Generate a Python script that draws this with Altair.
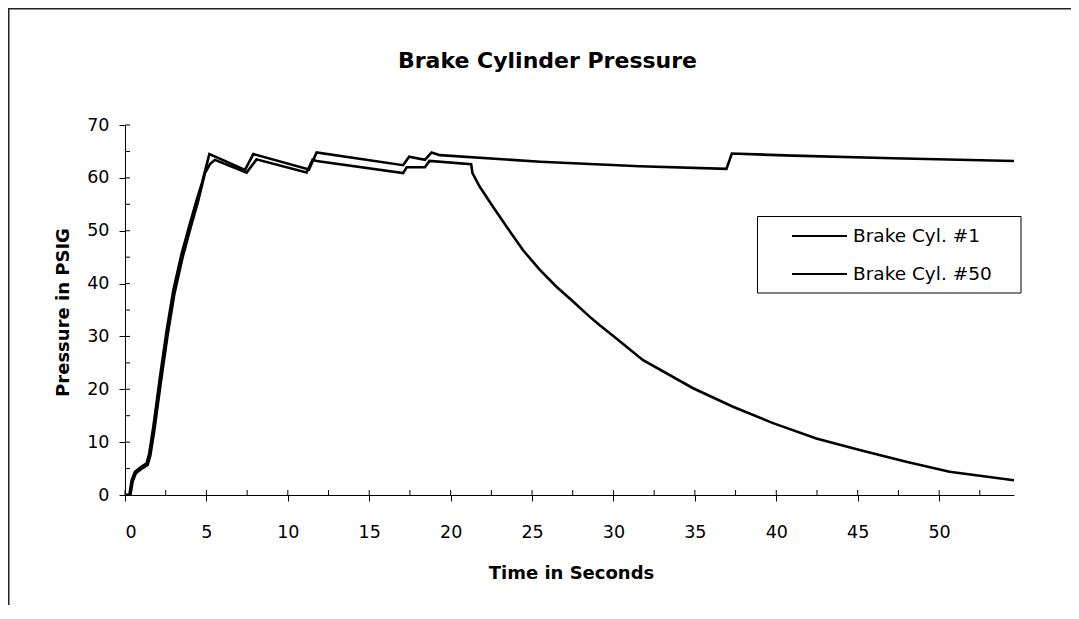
import altair as alt
import pandas as pd

# ---- data ----
series_names = ["Brake Cyl. #1", "Brake Cyl. #50"]

# Brake Cyl. #1 : releases after ~21 s
t_cyl1 = [0, 0.33, 0.47, 0.67, 1.08, 1.39, 1.55, 1.80, 2.21, 2.62, 3.03, 3.54, 4.05, 4.46,
          4.91, 5.22, 5.52, 7.47, 8.08, 11.15, 11.52, 11.77, 17.08, 17.30, 18.42, 18.70,
          21.26, 21.34, 21.79, 22.61, 23.43, 24.45, 25.48, 26.50, 27.52, 28.55, 29.16,
          30.18, 31.82, 34.89, 37.34, 39.80, 42.46, 45.12, 47.98, 50.64, 54.60]
p_cyl1 = [0, 0, 2.6, 4.1, 5.1, 5.7, 7.4, 12.2, 21.5, 30.3, 38.0, 45.0, 50.8, 55.2,
          60.9, 62.6, 63.4, 61.0, 63.5, 61.0, 63.4, 63.2, 60.9, 62.0, 62.0, 63.2,
          62.6, 60.9, 58.3, 54.5, 50.8, 46.3, 42.6, 39.4, 36.6, 33.7, 32.1,
          29.6, 25.5, 20.2, 16.7, 13.6, 10.7, 8.5, 6.3, 4.4, 2.8]

# Brake Cyl. #50 : stays applied
t_cyl50 = [0, 0.27, 0.41, 0.61, 1.02, 1.33, 1.49, 1.74, 2.15, 2.56, 2.97, 3.48, 3.99, 4.40,
           4.75, 5.18, 7.37, 7.88, 11.30, 11.77, 17.08, 17.45, 18.42, 18.83, 19.34,
           25.50, 31.60, 36.94, 37.27, 41.03, 47.17, 54.60]
p_cyl50 = [0, 0, 2.8, 4.4, 5.4, 6.0, 7.9, 12.9, 22.4, 31.2, 38.8, 45.7, 51.4, 55.8,
           59.3, 64.5, 61.5, 64.5, 61.6, 64.8, 62.4, 64.0, 63.4, 64.8, 64.3,
           63.05, 62.2, 61.7, 64.6, 64.2, 63.7, 63.2]

x_major = [0, 5, 10, 15, 20, 25, 30, 35, 40, 45, 50]
x_minor = [0, 2.5, 5, 7.5, 10, 12.5, 15, 17.5, 20, 22.5, 25, 27.5, 30, 32.5, 35, 37.5,
           40, 42.5, 45, 47.5, 50, 52.5]
y_major = [0, 10, 20, 30, 40, 50, 60, 70]
y_minor = [0, 5, 10, 15, 20, 25, 30, 35, 40, 45, 50, 55, 60, 65, 70]

df = pd.concat([
    pd.DataFrame({"t": t_cyl1, "p": p_cyl1, "series": series_names[0]}),
    pd.DataFrame({"t": t_cyl50, "p": p_cyl50, "series": series_names[1]}),
])

W, H = 889, 370
FONT = "DejaVu Sans"

x_scale = alt.Scale(domain=[0, 54.6], nice=False, zero=False)
y_scale = alt.Scale(domain=[0, 70], nice=False)

lines = alt.Chart(df).mark_line(strokeWidth=2.6, clip=True).encode(
    x=alt.X("t:Q", scale=x_scale,
            axis=alt.Axis(values=x_major, title="Time in Seconds", grid=False,
                          tickSize=6, labelPadding=22, titleX=446, titleY=83,
                          titleAlign="center", titleBaseline="alphabetic")),
    y=alt.Y("p:Q", scale=y_scale,
            axis=alt.Axis(values=y_major, title="Pressure in PSIG", grid=False,
                          tickSize=6, labelPadding=10, titleX=-57, titleY=187,
                          titleAlign="center", titleBaseline="alphabetic", titleAngle=270)),
    color=alt.Color("series:N",
                    scale=alt.Scale(domain=series_names, range=["#000000", "#000000"]),
                    legend=alt.Legend(title=None, orient="none", legendX=632, legendY=91,
                                      symbolType="stroke", symbolSize=3025,
                                      symbolStrokeWidth=2, symbolOffset=24,
                                      labelOffset=5, rowPadding=18, padding=10,
                                      clipHeight=20)),
)

x_inner = alt.Chart(pd.DataFrame({"t": x_minor})).mark_rule(color="black", strokeWidth=1).encode(
    x=alt.X("t:Q", scale=x_scale), y=alt.value(H), y2=alt.value(H - 5))

y_inner = alt.Chart(pd.DataFrame({"p": y_minor})).mark_rule(color="black", strokeWidth=1).encode(
    y=alt.Y("p:Q", scale=y_scale), x=alt.value(0), x2=alt.value(5))

# outer page frame and legend box (decoration only)
frame = alt.Chart(alt.Data(values=[{"k": 1}])).mark_rect(
    filled=False, stroke="#222222", strokeWidth=1.5).encode(
    x=alt.value(-116.25), x2=alt.value(W + 300), y=alt.value(-116.25), y2=alt.value(H + 300))

legend_box = alt.Chart(alt.Data(values=[{"k": 1}])).mark_rect(
    filled=False, stroke="#000000", strokeWidth=1).encode(
    x=alt.value(632.5), x2=alt.value(896), y=alt.value(91.5), y2=alt.value(168))

chart = alt.layer(frame, legend_box, lines, x_inner, y_inner).properties(
    width=W, height=H,
    title=alt.TitleParams("Brake Cylinder Pressure", font=FONT, fontSize=22, fontWeight="bold",
                          color="black", anchor="middle", frame="group", dx=-22, offset=-65),
    padding={"left": 117, "top": 117, "right": 57, "bottom": 110},
    autosize=alt.AutoSizeParams(type="none"),
).configure_view(stroke=None).configure_axis(
    labelFont=FONT, labelFontSize=17.5, labelColor="black",
    titleFont=FONT, titleFontSize=18, titleFontWeight="bold", titleColor="black",
    domainColor="black", domainWidth=1, tickColor="black", tickWidth=1,
).configure_legend(
    labelFont=FONT, labelFontSize=18.5, labelColor="black",
)

chart.save("out.html", embed_options={"renderer": "svg", "actions": False})
